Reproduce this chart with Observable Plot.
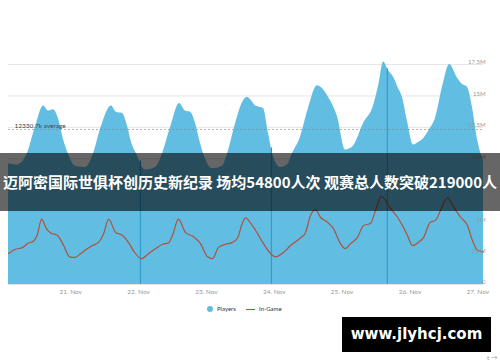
<!DOCTYPE html>
<html><head><meta charset="utf-8">
<script src="https://cdn.jsdelivr.net/npm/d3@7"></script>
<script src="https://cdn.jsdelivr.net/npm/@observablehq/plot@0.6"></script>
<style>
html,body{margin:0;padding:0;background:#fff;}
#wrap{position:relative;width:500px;height:362px;overflow:hidden;font-family:Lato,"Noto Sans",sans-serif;}
#banner{position:absolute;left:0;top:153px;width:500px;height:58px;background:rgba(0,0,0,0.6);color:#fff;font-family:"Noto Sans CJK SC",sans-serif;font-weight:bold;font-size:15px;line-height:58px;text-align:center;white-space:nowrap;}
#legend{position:absolute;left:0;top:304px;width:500px;font-size:6px;color:#333;}
#legend .item{position:absolute;top:0;line-height:10px;}
#wm{position:absolute;left:342px;top:317px;width:149px;height:35px;background:#000;color:#fff;font-family:"DejaVu Sans",sans-serif;font-weight:bold;font-size:15px;line-height:35px;text-align:center;}
</style></head>
<body><div id="wrap"><div id="chart"></div>
<div id="banner"></div>
<div id="legend"></div>
<div id="wm"></div></div>
<script>
const titleText = "迈阿密国际世俱杯创历史新纪录 场均54800人次 观赛总人数突破219000人";
const watermark = "www.jlyhcj.com";
const seriesNames = ["Players", "In-Game"];
const seriesColors = ["#62bde3", "#b3503a"];
const averageValue = 12.3307; // millions
const averageLabel = "12330.7k average";

const playerTimes = ["2023-11-20T02:00","2023-11-20T05:00","2023-11-20T08:40","2023-11-20T11:30","2023-11-20T14:25","2023-11-20T16:10","2023-11-20T17:55","2023-11-20T19:40","2023-11-20T21:30","2023-11-20T23:10",
"2023-11-21T01:40","2023-11-21T05:10","2023-11-21T08:05","2023-11-21T10:30","2023-11-21T14:25","2023-11-21T16:10","2023-11-21T18:20","2023-11-21T20:05","2023-11-21T21:30","2023-11-21T23:15",
"2023-11-22T02:30","2023-11-22T06:00","2023-11-22T08:30","2023-11-22T11:20","2023-11-22T14:30","2023-11-22T16:35","2023-11-22T18:25","2023-11-22T20:10","2023-11-22T21:35","2023-11-22T23:00",
"2023-11-23T02:10","2023-11-23T05:40","2023-11-23T07:30","2023-11-23T10:20","2023-11-23T12:50","2023-11-23T14:30","2023-11-23T16:00","2023-11-23T17:25","2023-11-23T20:10","2023-11-23T22:00","2023-11-23T23:25",
"2023-11-24T02:10","2023-11-24T04:40","2023-11-24T06:25","2023-11-24T09:15","2023-11-24T12:05","2023-11-24T15:15","2023-11-24T19:10","2023-11-24T22:25",
"2023-11-25T01:10","2023-11-25T04:00","2023-11-25T07:35","2023-11-25T11:05","2023-11-25T12:55","2023-11-25T14:40","2023-11-25T16:25","2023-11-25T18:10","2023-11-25T19:55","2023-11-25T21:20","2023-11-25T23:05",
"2023-11-26T01:15","2023-11-26T03:00","2023-11-26T04:50","2023-11-26T06:55","2023-11-26T09:00","2023-11-26T11:50","2023-11-26T14:00","2023-11-26T16:50","2023-11-26T18:35","2023-11-26T20:20","2023-11-26T22:05","2023-11-26T23:55",
"2023-11-27T02:00"];
const playerValues = [9.6,9.5,10.4,12.5,14.2,13.8,13.9,13.2,11.5,10.4,
9.4,9.3,10.4,12.3,14.2,13.7,13.6,12.6,11.3,10.4,
9.1,9.3,10.4,12.5,14.4,13.8,13.7,12.8,11.5,10.4,
9.2,9.4,10.4,12.8,14.5,14.9,14.6,14.2,14.0,12.0,10.4,
9.3,9.5,10.4,11.7,14.0,15.8,14.9,13.3,
10.7,11.0,12.8,14.2,15.8,17.7,17.0,16.5,15.6,14.9,13.0,
11.1,11.3,11.6,12.3,13.2,16.0,17.5,16.4,15.9,15.7,14.1,11.5,
9.8];

const inGameTimes = ["2023-11-20T02:00","2023-11-20T04:30","2023-11-20T07:00","2023-11-20T09:05","2023-11-20T10:30","2023-11-20T12:15","2023-11-20T13:40","2023-11-20T15:25","2023-11-20T16:55","2023-11-20T19:20","2023-11-20T21:30","2023-11-20T23:35",
"2023-11-21T01:20","2023-11-21T03:30","2023-11-21T05:35","2023-11-21T07:40","2023-11-21T09:50","2023-11-21T11:35","2023-11-21T13:25","2023-11-21T15:50","2023-11-21T18:20","2023-11-21T20:25","2023-11-21T22:10",
"2023-11-22T01:00","2023-11-22T03:30","2023-11-22T06:00","2023-11-22T08:30","2023-11-22T10:35","2023-11-22T12:00","2023-11-22T14:05","2023-11-22T16:35","2023-11-22T19:25","2023-11-22T21:55",
"2023-11-23T00:25","2023-11-23T02:10","2023-11-23T04:15","2023-11-23T06:45","2023-11-23T09:10","2023-11-23T11:00","2023-11-23T12:45","2023-11-23T13:50","2023-11-23T15:35","2023-11-23T18:05","2023-11-23T20:10",
"2023-11-24T00:25","2023-11-24T03:15","2023-11-24T05:45","2023-11-24T09:15","2023-11-24T11:00","2023-11-24T12:50","2023-11-24T14:35","2023-11-24T16:20","2023-11-24T18:50","2023-11-24T20:55","2023-11-24T23:25",
"2023-11-25T01:10","2023-11-25T03:00","2023-11-25T05:25","2023-11-25T07:35","2023-11-25T10:00","2023-11-25T11:50","2023-11-25T13:55","2023-11-25T17:05","2023-11-25T19:35","2023-11-25T21:40","2023-11-25T23:05",
"2023-11-26T00:55","2023-11-26T03:00","2023-11-26T04:50","2023-11-26T07:10","2023-11-26T09:00","2023-11-26T10:50","2023-11-26T13:15","2023-11-26T15:25","2023-11-26T17:55","2023-11-26T20:20","2023-11-26T22:05","2023-11-26T23:55",
"2023-11-27T02:00"];
const inGameValues = [2.47,2.8,2.95,3.3,3.4,4.0,5.2,4.45,4.1,3.9,3.1,2.2,
2.15,2.45,2.8,3.1,3.35,4.0,5.2,4.15,3.9,3.35,2.7,
2.05,2.45,2.85,3.2,3.3,3.9,5.2,4.15,3.8,3.25,
2.2,2.05,2.95,3.2,3.35,3.7,4.9,5.3,4.9,4.05,3.25,
2.2,2.55,3.1,3.7,4.1,5.5,5.95,5.35,4.95,4.45,3.25,
2.85,3.25,3.75,4.7,4.85,5.9,7.0,6.05,5.35,4.55,3.9,
3.1,3.35,3.75,4.95,5.1,5.9,6.9,6.15,5.35,4.7,3.5,2.7,
2.6];

const markerTimes = ["2023-11-22T00:40","2023-11-23T23:00","2023-11-25T16:00"];

const xDomain = ["2023-11-20T02:00","2023-11-27T02:00"];
const xTickDates = ["2023-11-21","2023-11-22","2023-11-23","2023-11-24","2023-11-25","2023-11-26","2023-11-27"];
const xTickLabels = ["21. Nov","22. Nov","23. Nov","24. Nov","25. Nov","26. Nov","27. Nov"];
const gridValues = [0,2.5,5,7.5,10,12.5,15,17.5];
const yTicks = [0,2.5,5,10,12.5,15,17.5];
const yTickLabels = ["0","2.5M","5M","10M","12.5M","15M","17.5M"];

const parse = s => new Date(s + (s.length > 10 ? ":00Z" : "T00:00:00Z"));
const players = playerTimes.map((t,i) => ({t: parse(t), v: playerValues[i]}));
const inGame = inGameTimes.map((t,i) => ({t: parse(t), v: inGameValues[i]}));
const xTicks = xTickDates.map(parse);
const yTickRows = yTicks.map((v,i) => ({v, label: yTickLabels[i]}));
// marker rules run from 0 up to the players area (interpolated from the data)
const interpPlayers = (d) => {
  const i = d3.bisector(p => p.t).left(players, d);
  const a = players[i-1], b = players[i];
  const f = (d - a.t) / (b.t - a.t);
  return a.v + (b.v - a.v) * f;
};
const markers = markerTimes.map(parse).map(t => ({t, top: interpPlayers(t)}));

const chart = Plot.plot({
  width: 500, height: 362,
  marginLeft: 8, marginRight: 17, marginTop: 64, marginBottom: 78,
  style: {fontFamily: "Lato, 'Noto Sans', sans-serif", background: "transparent"},
  x: {type: "utc", domain: xDomain.map(parse)},
  y: {domain: [0, 17.5]},
  marks: [
    Plot.ruleY(gridValues, {stroke: "#e6e6e6", strokeWidth: 1}),
    Plot.areaY(players, {x: "t", y: "v", fill: seriesColors[0], curve: "monotone-x"}),
    Plot.ruleX(markers, {x: "t", y1: 0, y2: "top", stroke: "#2f9ccf", strokeWidth: 1.2}),
    Plot.lineY(inGame, {x: "t", y: "v", stroke: seriesColors[1], strokeWidth: 1.2, curve: "monotone-x"}),
    Plot.ruleY([averageValue], {stroke: "#888", strokeOpacity: 0.8, strokeDasharray: "2,2", strokeWidth: 0.8}),
    Plot.text([averageLabel], {frameAnchor: "left", y: [averageValue], dx: 6, dy: -4, textAnchor: "start", fontSize: 6.5, fill: "#444"}),
    Plot.text(yTickRows, {frameAnchor: "right", y: "v", text: "label", textAnchor: "end", dx: 2, dy: -2, fontSize: 6, fill: "#999"}),
    Plot.axisX({ticks: xTicks, tickFormat: (d) => xTickLabels[xTicks.findIndex(x => +x === +d)], tickSize: 0, tickPadding: 5, fontSize: 6.5, fill: "#999"}),
    Plot.axisY({ticks: [], label: null})
  ]
});
document.getElementById("chart").appendChild(chart);
document.getElementById("banner").textContent = titleText;
document.getElementById("wm").textContent = watermark;
const lg = document.getElementById("legend");
lg.innerHTML = `<div class="item" style="left:207px"><span style="display:inline-block;width:6px;height:6px;border-radius:50%;background:${seriesColors[0]};vertical-align:middle;margin-right:4px"></span>${seriesNames[0]}</div>
<div class="item" style="left:246px"><span style="display:inline-block;width:9px;height:1.5px;background:${seriesColors[1]};vertical-align:middle;margin-right:4px"></span>${seriesNames[1]}</div>`;
</script></body></html>
